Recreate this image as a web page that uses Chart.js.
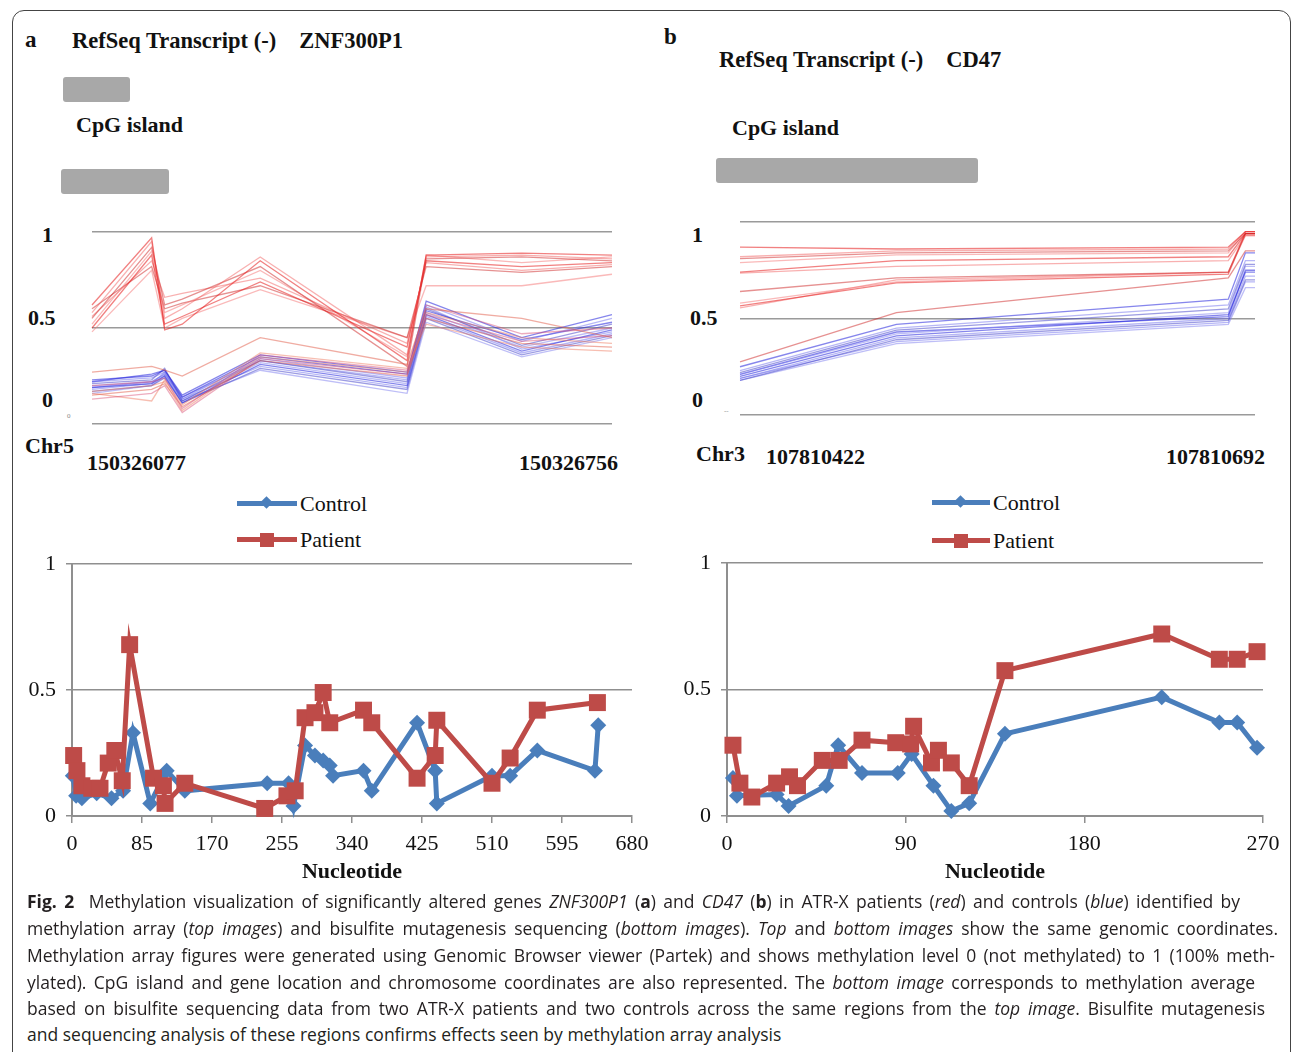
<!DOCTYPE html>
<html>
<head>
<meta charset="utf-8">
<script src="https://cdn.jsdelivr.net/npm/chart.js@4.4.0/dist/chart.umd.min.js"></script>
<style>
  body { margin: 0; background: #fff; }
  #page { position: relative; width: 1293px; height: 1052px; overflow: hidden; background: #fff; }
  #frame { position: absolute; left: 12px; top: 10px; width: 1277px; height: 1100px; border: 1.5px solid #444; border-radius: 12px; }
  .t { position: absolute; font-family: "Liberation Serif", "Times New Roman", serif; color: #111; white-space: nowrap; line-height: 1; font-size: 22px; }
  .b { font-weight: bold; }
  .bar { position: absolute; background: #a8a8a8; border-radius: 3px; }
  canvas { position: absolute; }
  .lline { position: absolute; height: 5px; }
  .ldia { position: absolute; width: 9px; height: 9px; transform: rotate(45deg); background: #4a7ebb; }
  .lsq { position: absolute; width: 14px; height: 14px; background: #be4b48; }
  .cap { position: absolute; left: 27px; font-family: "Open Sans", "Noto Sans", sans-serif; font-size: 17.5px; color: #231f20; white-space: nowrap; line-height: 20px; }
  .just { text-align: justify; text-align-last: justify; }
</style>
</head>
<body>
<div id="page">
  <div id="frame"></div>

  <!-- panel a header -->
  <div class="t b" style="left:25px; top:28px; font-size:23px;">a</div>
  <div class="t b" style="left:72px; top:30px; font-size:22.5px;">RefSeq Transcript (-)<span style="display:inline-block;width:23px"></span>ZNF300P1</div>
  <div class="bar" style="left:63px; top:77px; width:67px; height:25px;"></div>
  <div class="t b" style="left:76px; top:114px;">CpG island</div>
  <div class="bar" style="left:61px; top:169px; width:108px; height:25px;"></div>
  <div class="t b" style="left:42px; top:224px;">1</div>
  <div class="t b" style="left:28px; top:307px;">0.5</div>
  <div class="t b" style="left:42px; top:389px;">0</div>
  <div class="t" style="left:67px; top:413px; font-size:7px; color:#888;">0</div>
  <div class="t b" style="left:25px; top:435px;">Chr5</div>
  <div class="t b" style="left:87px; top:452px;">150326077</div>
  <div class="t b" style="left:519px; top:452px;">150326756</div>

  <!-- panel b header -->
  <div class="t b" style="left:664px; top:25px; font-size:23px;">b</div>
  <div class="t b" style="left:719px; top:49px; font-size:22.5px;">RefSeq Transcript (-)<span style="display:inline-block;width:23px"></span>CD47</div>
  <div class="t b" style="left:732px; top:117px;">CpG island</div>
  <div class="bar" style="left:716px; top:158px; width:262px; height:25px;"></div>
  <div class="t b" style="left:692px; top:224px;">1</div>
  <div class="t b" style="left:690px; top:307px;">0.5</div>
  <div class="t b" style="left:692px; top:389px;">0</div>
  <div class="t" style="left:724px; top:408px; font-size:7px; color:#888;">--</div>
  <div class="t b" style="left:696px; top:443px;">Chr3</div>
  <div class="t b" style="left:766px; top:446px;">107810422</div>
  <div class="t b" style="left:1166px; top:446px;">107810692</div>

  <!-- legends -->
  <div class="lline" style="left:237px; top:501px; width:60px; background:#4a7ebb;"></div>
  <div class="ldia" style="left:262px; top:498px;"></div>
  <div class="t" style="left:300px; top:493px;">Control</div>
  <div class="lline" style="left:237px; top:537px; width:60px; background:#be4b48;"></div>
  <div class="lsq" style="left:260px; top:533px;"></div>
  <div class="t" style="left:300px; top:529px;">Patient</div>

  <div class="lline" style="left:932px; top:500px; width:58px; background:#4a7ebb;"></div>
  <div class="ldia" style="left:956px; top:497px;"></div>
  <div class="t" style="left:993px; top:492px;">Control</div>
  <div class="lline" style="left:932px; top:538px; width:58px; background:#be4b48;"></div>
  <div class="lsq" style="left:954px; top:534px;"></div>
  <div class="t" style="left:993px; top:530px;">Patient</div>

  <canvas id="arrA" width="570" height="230" style="left:60px; top:210px;"></canvas>
  <canvas id="arrB" width="560" height="230" style="left:720px; top:200px;"></canvas>
  <canvas id="seqA" width="660" height="350" style="left:0px; top:540px;"></canvas>
  <canvas id="seqB" width="643" height="350" style="left:650px; top:540px;"></canvas>

  <!-- caption -->
  <div class="cap just" style="top:891px; width:1213px;"><b>Fig. 2</b>&nbsp; Methylation visualization of significantly altered genes <i>ZNF300P1</i> (<b>a</b>) and <i>CD47</i> (<b>b</b>) in ATR-X patients (<i>red</i>) and controls (<i>blue</i>) identified by</div>
  <div class="cap just" style="top:918px; width:1251px;">methylation array (<i>top images</i>) and bisulfite mutagenesis sequencing (<i>bottom images</i>). <i>Top</i> and <i>bottom images</i> show the same genomic coordinates.</div>
  <div class="cap just" style="top:945px; width:1248px;">Methylation array figures were generated using Genomic Browser viewer (Partek) and shows methylation level 0 (not methylated) to 1 (100% meth-</div>
  <div class="cap just" style="top:972px; width:1228px;">ylated). CpG island and gene location and chromosome coordinates are also represented. The <i>bottom image</i> corresponds to methylation average</div>
  <div class="cap just" style="top:998px; width:1238px;">based on bisulfite sequencing data from two ATR-X patients and two controls across the same regions from the <i>top image</i>. Bisulfite mutagenesis</div>
  <div class="cap" style="top:1024px;">and sequencing analysis of these regions confirms effects seen by methylation array analysis</div>
</div>

<script>
// ---- bisulfite sequencing averages (bottom panels) ----
const aControlX = [1, 5, 12, 30, 48, 62, 74, 95, 115, 137, 237, 263, 269, 283, 295, 305, 313, 317, 354, 364, 419, 441, 443, 510, 532, 565, 635, 639];
const aControlY = [0.16, 0.08, 0.07, 0.09, 0.07, 0.10, 0.33, 0.05, 0.18, 0.10, 0.13, 0.13, 0.04, 0.28, 0.24, 0.22, 0.20, 0.16, 0.18, 0.10, 0.37, 0.18, 0.05, 0.16, 0.16, 0.26, 0.18, 0.36];
const aPatientX = [2, 6, 12, 24, 34, 44, 52, 61, 70, 99, 111, 113, 137, 234, 261, 271, 283, 295, 305, 313, 354, 364, 419, 441, 443, 510, 532, 565, 638];
const aPatientY = [0.24, 0.18, 0.12, 0.11, 0.11, 0.21, 0.26, 0.14, 0.68, 0.15, 0.12, 0.05, 0.13, 0.03, 0.08, 0.10, 0.39, 0.41, 0.49, 0.37, 0.42, 0.37, 0.15, 0.24, 0.38, 0.13, 0.23, 0.42, 0.45];

const bControlX = [3, 5, 25, 31, 50, 56, 68, 86, 93, 104, 113, 122, 140, 219, 248, 257, 267];
const bControlY = [0.15, 0.08, 0.085, 0.04, 0.12, 0.28, 0.17, 0.17, 0.245, 0.12, 0.02, 0.05, 0.325, 0.47, 0.37, 0.37, 0.27];
const bPatientX = [3, 6.5, 12.5, 25, 31.5, 35.5, 48, 56.5, 68, 85, 92.5, 94, 103, 106.5, 113, 122, 140, 219, 248, 257, 267];
const bPatientY = [0.28, 0.13, 0.075, 0.13, 0.155, 0.12, 0.22, 0.22, 0.30, 0.29, 0.285, 0.355, 0.21, 0.26, 0.21, 0.12, 0.575, 0.72, 0.62, 0.62, 0.65];

const aTicksMax = 680, aTickStep = 85;
const bTicksMax = 270, bTickStep = 90;

// ---- methylation array probes (top panels), one row per sample ----
const aProbePos = [0, 78, 95, 118, 220, 412, 437, 562, 680];
const aPatientHigh = [
  [0.62, 0.97, 0.49, 0.52, 0.85, 0.33, 0.88, 0.89, 0.88],
  [0.58, 0.95, 0.55, 0.60, 0.87, 0.36, 0.87, 0.88, 0.86],
  [0.55, 0.92, 0.62, 0.65, 0.82, 0.30, 0.86, 0.87, 0.85],
  [0.52, 0.90, 0.58, 0.62, 0.80, 0.35, 0.88, 0.84, 0.87],
  [0.50, 0.88, 0.52, 0.56, 0.74, 0.40, 0.85, 0.82, 0.84],
  [0.56, 0.85, 0.66, 0.68, 0.76, 0.42, 0.84, 0.80, 0.83],
  [0.60, 0.82, 0.60, 0.63, 0.72, 0.45, 0.82, 0.79, 0.82],
  [0.48, 0.80, 0.50, 0.55, 0.70, 0.45, 0.72, 0.72, 0.78]
];
const aPatientLow = [
  [0.27, 0.30, 0.28, 0.25, 0.45, 0.31, 0.60, 0.55, 0.45],
  [0.20, 0.22, 0.24, 0.08, 0.36, 0.28, 0.62, 0.47, 0.50],
  [0.17, 0.20, 0.22, 0.07, 0.35, 0.27, 0.58, 0.45, 0.42],
  [0.15, 0.18, 0.21, 0.09, 0.33, 0.25, 0.55, 0.42, 0.40],
  [0.13, 0.16, 0.20, 0.06, 0.34, 0.26, 0.57, 0.43, 0.46],
  [0.16, 0.12, 0.23, 0.10, 0.37, 0.29, 0.52, 0.40, 0.38]
];
const aArrayControl = [
  [0.23, 0.25, 0.28, 0.14, 0.35, 0.26, 0.64, 0.45, 0.57],
  [0.22, 0.24, 0.27, 0.13, 0.34, 0.24, 0.62, 0.43, 0.55],
  [0.21, 0.23, 0.29, 0.12, 0.33, 0.22, 0.60, 0.41, 0.52],
  [0.20, 0.22, 0.26, 0.12, 0.32, 0.21, 0.58, 0.40, 0.50],
  [0.19, 0.21, 0.25, 0.11, 0.31, 0.20, 0.57, 0.38, 0.49],
  [0.18, 0.21, 0.27, 0.13, 0.30, 0.19, 0.56, 0.37, 0.47],
  [0.17, 0.20, 0.24, 0.11, 0.29, 0.18, 0.55, 0.36, 0.46],
  [0.16, 0.20, 0.25, 0.12, 0.28, 0.16, 0.53, 0.35, 0.45],
  [0.22, 0.26, 0.28, 0.15, 0.36, 0.27, 0.59, 0.44, 0.53],
  [0.19, 0.22, 0.26, 0.14, 0.33, 0.23, 0.61, 0.39, 0.48]
];

const bProbePos = [0, 82, 256, 265, 270];
const bPatientRows = [
  [0.87, 0.86, 0.87, 0.95, 0.95],
  [0.82, 0.85, 0.86, 0.95, 0.95],
  [0.81, 0.84, 0.85, 0.94, 0.94],
  [0.79, 0.83, 0.84, 0.95, 0.95],
  [0.74, 0.80, 0.82, 0.94, 0.94],
  [0.735, 0.77, 0.80, 0.93, 0.93],
  [0.64, 0.71, 0.74, 0.94, 0.94],
  [0.58, 0.69, 0.74, 0.93, 0.93],
  [0.565, 0.685, 0.73, 0.94, 0.94],
  [0.555, 0.70, 0.74, 0.95, 0.95],
  [0.275, 0.53, 0.71, 0.85, 0.85]
];
const bControlRows = [
  [0.25, 0.47, 0.60, 0.84, 0.84],
  [0.23, 0.45, 0.57, 0.80, 0.80],
  [0.22, 0.44, 0.55, 0.78, 0.78],
  [0.21, 0.42, 0.53, 0.77, 0.77],
  [0.20, 0.41, 0.52, 0.74, 0.74],
  [0.19, 0.40, 0.50, 0.72, 0.72],
  [0.18, 0.39, 0.49, 0.70, 0.70],
  [0.18, 0.37, 0.47, 0.66, 0.66],
  [0.21, 0.43, 0.51, 0.75, 0.75],
  [0.19, 0.38, 0.48, 0.69, 0.69]
];

const serif = "'Liberation Serif', 'Times New Roman', serif";
const axisGray = '#8f8f8f';
const redShades = ['rgba(230,25,25,0.55)', 'rgba(240,80,80,0.45)', 'rgba(205,35,35,0.5)', 'rgba(245,115,115,0.5)'];
const pinkShades = ['rgba(225,90,70,0.5)', 'rgba(215,70,110,0.45)', 'rgba(240,125,100,0.5)'];
const blueShades = ['rgba(35,35,220,0.55)', 'rgba(95,95,235,0.45)', 'rgba(60,60,200,0.5)', 'rgba(125,125,240,0.5)'];

function arrayChart(id, pos, groups, xMax, pad) {
  const datasets = [];
  groups.forEach(g => {
    g.rows.forEach((row, i) => {
      datasets.push({
        data: row.map((v, k) => ({ x: pos[k], y: v })),
        borderColor: g.colors[i % g.colors.length],
        borderWidth: 1.3,
        pointRadius: 0,
        clip: false
      });
    });
  });
  return new Chart(document.getElementById(id), {
    type: 'line',
    data: { datasets: datasets },
    options: {
      responsive: false,
      animation: false,
      layout: { padding: pad },
      plugins: { legend: { display: false }, tooltip: { enabled: false } },
      scales: {
        x: { type: 'linear', min: 0, max: xMax, display: false },
        y: {
          min: 0, max: 1,
          ticks: { display: false, stepSize: 0.5 },
          grid: { color: '#9a9a9a', lineWidth: 1.5, drawTicks: false },
          border: { display: false },
          afterFit: s => { s.width = 0; }
        }
      }
    }
  });
}

function seqChart(id, ctrlX, ctrlY, patX, patY, xMax, xStep, yAxisW, padTop, padRight) {
  const pts = (xs, ys) => xs.map((x, i) => ({ x: x, y: ys[i] }));
  return new Chart(document.getElementById(id), {
    type: 'line',
    data: {
      datasets: [
        { label: 'Control', data: pts(ctrlX, ctrlY), borderColor: '#4a7ebb', backgroundColor: '#4a7ebb',
          borderWidth: 5, pointStyle: 'rectRot', pointRadius: 8, pointBorderWidth: 0, clip: false, order: 1 },
        { label: 'Patient', data: pts(patX, patY), borderColor: '#be4b48', backgroundColor: '#be4b48',
          borderWidth: 5, pointStyle: 'rect', pointRadius: 12, pointBorderWidth: 0, clip: false, order: 0 }
      ]
    },
    options: {
      responsive: false,
      animation: false,
      layout: { padding: { top: padTop, right: padRight, left: 0, bottom: 0 } },
      plugins: { legend: { display: false }, tooltip: { enabled: false } },
      scales: {
        x: {
          type: 'linear', min: 0, max: xMax,
          ticks: { stepSize: xStep, color: '#111', font: { family: serif, size: 22 }, padding: 8, maxRotation: 0, autoSkip: false },
          grid: { drawOnChartArea: false, drawTicks: true, tickLength: 7, color: axisGray, lineWidth: 1.5 },
          border: { display: true, color: axisGray, width: 2 },
          title: { display: true, text: 'Nucleotide', color: '#111', font: { family: serif, size: 22, weight: 'bold' }, padding: { top: 0, bottom: 4 } },
          afterFit: s => { s.height = 74; }
        },
        y: {
          min: 0, max: 1,
          ticks: { stepSize: 0.5, color: '#111', font: { family: serif, size: 22 }, padding: 10, callback: v => String(v) },
          grid: { color: axisGray, lineWidth: 1.5, drawTicks: true, tickLength: 6 },
          border: { display: true, color: axisGray, width: 2 },
          afterFit: s => { s.width = yAxisW; }
        }
      }
    }
  });
}

arrayChart('arrA', aProbePos, [
  { rows: aPatientLow, colors: pinkShades },
  { rows: aArrayControl, colors: blueShades },
  { rows: aPatientHigh, colors: redShades }
], 680, { left: 32, right: 18, top: 22, bottom: 16 });

arrayChart('arrB', bProbePos, [
  { rows: bControlRows, colors: blueShades },
  { rows: bPatientRows, colors: redShades }
], 270, { left: 20, right: 25, top: 22, bottom: 15 });

seqChart('seqA', aControlX, aControlY, aPatientX, aPatientY, aTicksMax, aTickStep, 72, 24, 28);
seqChart('seqB', bControlX, bControlY, bPatientX, bPatientY, bTicksMax, bTickStep, 77, 22, 30);
</script>
</body>
</html>
